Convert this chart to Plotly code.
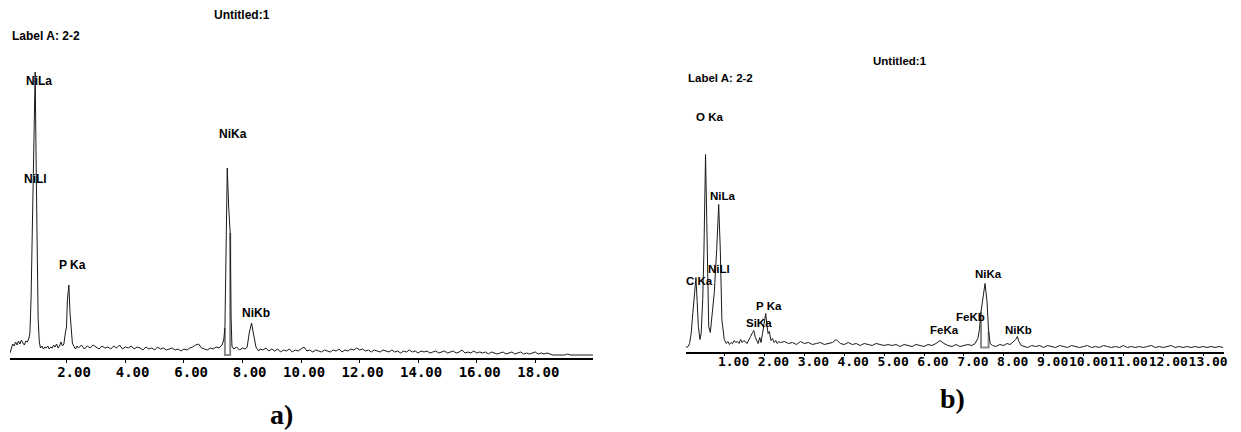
import plotly.graph_objects as go

# Page body has an 8px margin; the figure starts at window pixel (8, 8).
OFF = 8
FW, FH = 1241 - OFF, 432 - OFF

# ---------------- Panel a data (energy keV, counts) ----------------
energy_a = [0.06, 0.10, 0.15, 0.20, 0.25, 0.30, 0.35, 0.40, 0.45, 0.50, 0.55, 0.60, 0.65, 0.70,
            0.74, 0.78, 0.82, 0.86, 0.89, 0.92, 0.95, 0.98, 1.02, 1.06, 1.10, 1.15, 1.20, 1.25,
            1.30, 1.35, 1.40, 1.45, 1.50, 1.55, 1.60, 1.65, 1.70, 1.75, 1.80, 1.85, 1.90, 1.95,
            1.99, 2.02, 2.07, 2.11, 2.14, 2.19, 2.25, 2.30, 2.35,
            2.4, 2.5, 2.6, 2.7, 2.8, 2.9, 3.0, 3.1, 3.2, 3.3, 3.4, 3.5, 3.6, 3.7, 3.8, 3.9,
            4.0, 4.1, 4.2, 4.3, 4.4, 4.5, 4.6, 4.7, 4.8, 4.9, 5.0, 5.1, 5.2, 5.3, 5.4, 5.5,
            5.6, 5.7, 5.8, 5.9, 6.0, 6.1, 6.2, 6.3, 6.4, 6.5, 6.6, 6.7, 6.8, 6.9, 7.0, 7.1, 7.2,
            7.30, 7.36, 7.40, 7.44, 7.48, 7.53, 7.58, 7.61, 7.64, 7.7, 7.8, 7.9, 8.0, 8.1,
            8.16, 8.23, 8.31, 8.37, 8.46, 8.55, 8.6, 8.7, 8.8, 8.9, 9.0,
            9.1, 9.2, 9.3, 9.4, 9.5, 9.6, 9.7, 9.8, 9.9, 10.0, 10.1, 10.2, 10.3, 10.4, 10.5,
            10.6, 10.7, 10.8, 10.9, 11.0, 11.1, 11.2, 11.3, 11.4, 11.5, 11.6, 11.7, 11.8, 11.9,
            12.0, 12.1, 12.2, 12.3, 12.4, 12.5, 12.6, 12.7, 12.8, 12.9, 13.0, 13.1, 13.2, 13.3,
            13.4, 13.5, 13.6, 13.7, 13.8, 13.9, 14.0, 14.1, 14.2, 14.3, 14.4, 14.5, 14.6, 14.7,
            14.8, 14.9, 15.0, 15.1, 15.2, 15.3, 15.4, 15.5, 15.6, 15.7, 15.8, 15.9, 16.0, 16.1,
            16.2, 16.3, 16.4, 16.5, 16.6, 16.7, 16.8, 16.9, 17.0, 17.1, 17.2, 17.3, 17.4, 17.5,
            17.6, 17.7, 17.8, 17.9, 18.0, 18.1, 18.2, 18.3, 18.4, 18.5, 18.6, 19.0, 19.1, 19.2,
            19.97]
counts_a = [5, 9, 14, 12, 16, 13, 17, 14, 18, 15, 13, 17, 16, 19,
            25, 60, 120, 200, 260, 286, 200, 100, 40, 16, 10, 12, 9, 11,
            10, 12, 9, 11, 10, 13, 11, 14, 10, 12, 16, 12, 14, 25,
            31, 58, 73, 45, 31, 15, 11, 9, 12,
            10, 13, 9, 12, 10, 13, 11, 9, 12, 10, 11, 9, 12, 10, 13, 9,
            11, 10, 12, 9, 11, 10, 8, 11, 9, 10, 8, 11, 9, 10, 8, 9,
            10, 8, 9, 7, 9, 8, 10, 11, 13, 14, 10, 9, 8, 10, 9, 11, 10,
            13, 18, 30, 120, 190, 150, 125, 40, 12, 9, 11, 8, 10, 9,
            11, 25, 35, 25, 11, 7, 9, 8, 10, 7, 9,
            7, 9, 6, 8, 7, 9, 6, 8, 7, 9, 11, 7, 8, 6, 8,
            7, 6, 8, 7, 6, 8, 7, 9, 6, 8, 7, 9, 8, 10,
            8, 9, 7, 8, 6, 8, 7, 6, 8, 7, 6, 8, 6, 7,
            5, 7, 6, 8, 6, 7, 5, 7, 6, 7, 5, 6, 7, 5,
            6, 7, 5, 6, 7, 5, 6, 8, 5, 6, 5, 7, 5, 6,
            5, 6, 4, 6, 5, 4, 5, 6, 4, 5, 6, 4, 5, 6,
            4, 5, 4, 5, 6, 4, 5, 4, 5, 4, 3, 3, 4, 3,
            3]
roi_a = [7.40, 7.58]          # highlighted NiKa region (keV)
roi_floor_a = 3               # counts at box bottom

ticks_a = [2, 4, 6, 8, 10, 12, 14, 16, 18]
ticktext_a = ["\u00a02.00", "\u00a04.00", "\u00a06.00", "\u00a08.00", "10.00", "12.00", "14.00", "16.00", "18.00"]

# ---------------- Panel b data ----------------
energy_b = [0.03, 0.08, 0.12, 0.16, 0.20, 0.24, 0.28, 0.31, 0.34, 0.38, 0.41, 0.45, 0.48, 0.52,
            0.56, 0.60, 0.64, 0.68, 0.74, 0.80, 0.85, 0.89, 0.93, 0.99, 1.04, 1.08, 1.12, 1.16,
            1.20, 1.24, 1.28, 1.32, 1.36, 1.40, 1.44, 1.48, 1.52, 1.56, 1.60, 1.65, 1.70, 1.73,
            1.77, 1.80, 1.84, 1.88, 1.91, 1.95, 1.99, 2.03, 2.06, 2.09, 2.12, 2.16, 2.20, 2.24,
            2.28, 2.32, 2.36, 2.40,
            2.5, 2.6, 2.7, 2.8, 2.9, 3.0, 3.1, 3.2, 3.3, 3.4, 3.5, 3.6, 3.7, 3.8, 3.9, 4.0,
            4.1, 4.2, 4.3, 4.4, 4.5, 4.6, 4.7, 4.8, 4.9, 5.0, 5.1, 5.2, 5.3, 5.4, 5.5, 5.6,
            5.7, 5.8, 5.9, 6.0, 6.1, 6.2, 6.3, 6.4, 6.5, 6.6, 6.7, 6.8, 6.9, 7.0, 7.1, 7.2,
            7.28, 7.35, 7.39, 7.43, 7.48, 7.53, 7.58, 7.62, 7.66, 7.72, 7.8, 7.9, 8.0, 8.08,
            8.16, 8.24, 8.30, 8.34, 8.38, 8.44, 8.5, 8.6, 8.7, 8.8, 8.9, 9.0, 9.1, 9.2, 9.3,
            9.4, 9.5, 9.6, 9.7, 9.8, 9.9, 10.0, 10.1, 10.2, 10.3, 10.4, 10.5, 10.6, 10.7, 10.8,
            10.9, 11.0, 11.1, 11.2, 11.3, 11.4, 11.5, 11.6, 11.7, 11.8, 11.9, 12.0, 12.1, 12.2,
            12.3, 12.4, 12.5, 12.6, 12.7, 12.8, 12.9, 13.0, 13.1, 13.2, 13.3, 13.4, 13.5]
counts_b = [4, 5, 8, 18, 38, 60, 74, 50, 25, 12, 18, 52, 100, 197,
            100, 25, 19, 35, 59, 102, 147, 102, 32, 12, 8, 10, 7, 9,
            8, 11, 9, 10, 8, 12, 9, 11, 10, 8, 12, 15, 19, 21,
            14, 12, 8, 14, 9, 18, 28, 38, 26, 18, 20, 11, 13, 9,
            11, 8, 10, 9,
            10, 8, 9, 7, 10, 8, 9, 7, 8, 9, 7, 8, 9, 12, 8, 7,
            9, 7, 8, 6, 8, 7, 6, 8, 7, 6, 7, 6, 7, 5, 7, 6,
            5, 7, 6, 5, 7, 6, 8, 11, 8, 6, 5, 7, 5, 6, 7, 6,
            8, 13, 22, 40, 57, 68, 50, 20, 8, 6, 5, 7, 6, 8,
            7, 10, 12, 15, 10, 6, 5, 4, 6, 5, 6, 4, 6, 5, 4,
            6, 5, 4, 6, 5, 4, 5, 6, 4, 5, 4, 6, 5, 4, 5,
            4, 6, 4, 5, 4, 5, 4, 5, 6, 4, 5, 4, 5, 6,
            4, 5, 4, 5, 4, 5, 4, 5, 4, 5, 4, 5, 4]
roi_b = [7.43, 7.62]
roi_floor_b = 4

ticks_b = [1, 2, 3, 4, 5, 6, 7, 8, 9, 10, 11, 12, 13]
ticktext_b = ["\u00a01.00", "\u00a02.00", "\u00a03.00", "\u00a04.00", "\u00a05.00", "\u00a06.00",
              "\u00a07.00", "\u00a08.00", "\u00a09.00", "10.00", "11.00", "12.00", "13.00"]

labels_a = ["NiLa", "NiLl", "P Ka", "NiKa", "NiKb"]
labels_b = ["O Ka", "NiLa", "NiLl", "C Ka", "P Ka", "SiKa", "FeKa", "FeKb", "NiKa", "NiKb"]

# ---------------- layout helpers (window pixel positions) ----------------
def fx(x):
    return (x - OFF) / FW


def fy(y):
    return 1 - (y - OFF) / FH


label_pos_a = [(39, 81), (36, 179), (73, 265), (234, 134), (257, 313)]
label_pos_b = [(712, 117), (725, 196), (721, 269), (702, 281), (771, 306), (761, 323),
               (948, 330), (974, 317), (992, 274), (1022, 330)]

LINE = "#1a1a1a"
BOX = "#8a8a8a"


def roi_box(energy, counts, roi, floor):
    i0 = energy.index(roi[0])
    i1 = energy.index(roi[1])
    return [roi[0], roi[0], roi[1], roi[1]], [counts[i0], floor, floor, counts[i1]]


fig = go.Figure()

bx, by = roi_box(energy_a, counts_a, roi_a, roi_floor_a)
fig.add_trace(go.Scatter(x=bx, y=by, mode="lines", line=dict(color=BOX, width=2),
                         xaxis="x", yaxis="y", hoverinfo="skip"))
fig.add_trace(go.Scatter(x=energy_a, y=counts_a, mode="lines", line=dict(color=LINE, width=1),
                         xaxis="x", yaxis="y"))

bx, by = roi_box(energy_b, counts_b, roi_b, roi_floor_b)
fig.add_trace(go.Scatter(x=bx, y=by, mode="lines", line=dict(color=BOX, width=2),
                         xaxis="x2", yaxis="y2", hoverinfo="skip"))
fig.add_trace(go.Scatter(x=energy_b, y=counts_b, mode="lines", line=dict(color=LINE, width=1),
                         xaxis="x2", yaxis="y2"))

# axis geometry (window pixels)
a_left, a_right, a_base, a_top = 10, 595, 358, 60
b_left, b_right, b_base, b_top = 688, 1228, 351.5, 140
a_k0, a_scale = 8.25, 29.375     # pixel of 0 keV, px per keV
b_k0, b_scale = 687, 40.0

tickfont_a = dict(family="DejaVu Sans Mono", size=14, color="#000", weight="bold")
tickfont_b = dict(family="DejaVu Sans Mono", size=13, color="#000", weight="bold")

common_x = dict(showline=True, linecolor="#000", linewidth=1.5, showgrid=False, zeroline=False,
                ticks="outside", ticklen=3, tickwidth=1, tickcolor="#000", tickmode="array",
                tickangle=0)
common_y = dict(visible=False, showgrid=False, zeroline=False)

fig.update_layout(
    width=FW, height=FH, margin=dict(l=0, r=0, t=0, b=0),
    paper_bgcolor="white", plot_bgcolor="white", showlegend=False,
    xaxis=dict(domain=[fx(a_left), fx(a_right)],
               range=[(a_left - a_k0) / a_scale, (a_right - a_k0) / a_scale],
               tickvals=ticks_a, ticktext=ticktext_a, tickfont=tickfont_a,
               ticklabelshift=3, ticklabelstandoff=-3, anchor="y", **common_x),
    yaxis=dict(domain=[fy(a_base), fy(a_top)], range=[0, a_base - a_top],
               anchor="x", **common_y),
    xaxis2=dict(domain=[fx(b_left), min(1.0, fx(b_right))],
                range=[(b_left - b_k0) / b_scale, (b_right - b_k0) / b_scale],
                tickvals=ticks_b, ticktext=ticktext_b, tickfont=tickfont_b,
                ticklabelshift=5, ticklabelstandoff=-6, anchor="y2", **common_x),
    yaxis2=dict(domain=[fy(b_base), fy(b_top)], range=[0, b_base - b_top],
                anchor="x2", **common_y),
)

SANS = "Liberation Sans, Arial, sans-serif"
SERIF = "Liberation Serif, Times New Roman, serif"
ann = []


def add_text(text, x, y, size, xanchor="center", family=SANS):
    ann.append(dict(text=text, x=fx(x), y=fy(y), xref="paper", yref="paper", xanchor=xanchor,
                    yanchor="middle", showarrow=False,
                    font=dict(family=family, size=size, color="#000", weight="bold")))


add_text("Untitled:1", 243, 15, 12)
add_text("Label A: 2-2", 10, 36, 12, xanchor="left")
for t, (x, y) in zip(labels_a, label_pos_a):
    add_text(t, x, y, 12)
add_text("a)", 282, 414, 28, family=SERIF)

add_text("Untitled:1", 903, 61, 11.5)
add_text("Label A: 2-2", 688, 78, 11.5, xanchor="left")
for t, (x, y) in zip(labels_b, label_pos_b):
    add_text(t, x, y, 11.5)
add_text("b)", 956, 398, 28, family=SERIF)

fig.update_layout(annotations=ann)
fig.write_html("out.html")
